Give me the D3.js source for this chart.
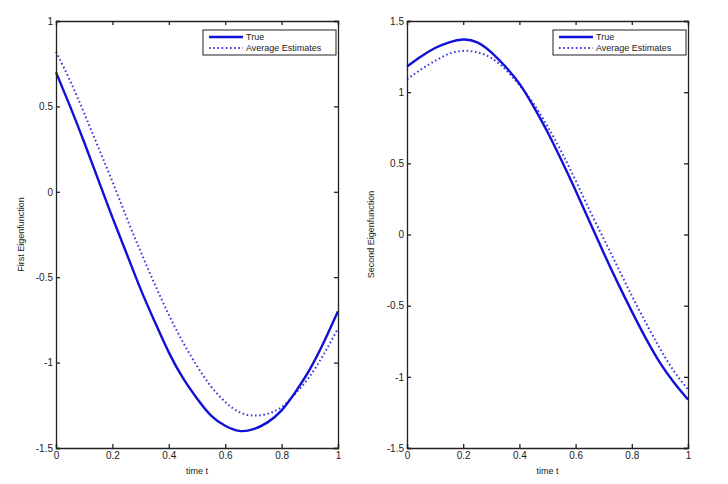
<!DOCTYPE html>
<html lang="en">
  <head>
    <meta charset="UTF-8" />
    <title>Eigenfunctions</title>
    <script src="https://cdn.jsdelivr.net/npm/d3@7"></script>
    <style>
      body { margin: 0; background: #fff; }
      text { font-family: "Liberation Sans", Arial, sans-serif; fill: #222; }
    </style>
  </head>
  <body>
    <script>
      // time grid (every 0.05)
      var times = [0, 0.05, 0.1, 0.15, 0.2, 0.25, 0.3, 0.35, 0.4, 0.45, 0.5,
                   0.55, 0.6, 0.65, 0.7, 0.75, 0.8, 0.85, 0.9, 0.95, 1];

      var firstTrue = [0.70, 0.50, 0.29, 0.07, -0.15, -0.36, -0.57, -0.76, -0.94, -1.09, -1.21,
                       -1.31, -1.37, -1.40, -1.39, -1.35, -1.28, -1.17, -1.04, -0.88, -0.70];
      var firstAvg = [0.82, 0.65, 0.46, 0.26, 0.06, -0.15, -0.35, -0.54, -0.72, -0.88, -1.02,
                      -1.14, -1.23, -1.29, -1.31, -1.30, -1.26, -1.18, -1.08, -0.95, -0.80];

      var secondTrue = [1.18, 1.25, 1.31, 1.35, 1.37, 1.35, 1.28, 1.18, 1.06, 0.90, 0.72,
                        0.52, 0.31, 0.09, -0.13, -0.34, -0.54, -0.73, -0.90, -1.04, -1.16];
      var secondAvg = [1.09, 1.16, 1.22, 1.27, 1.29, 1.28, 1.24, 1.16, 1.05, 0.92, 0.76,
                       0.58, 0.38, 0.17, -0.03, -0.23, -0.43, -0.62, -0.80, -0.96, -1.09];

      var xTicks = [0, 0.2, 0.4, 0.6, 0.8, 1];
      var xTickLabels = ["0", "0.2", "0.4", "0.6", "0.8", "1"];
      var yTicks1 = [-1.5, -1, -0.5, 0, 0.5, 1];
      var yTickLabels1 = ["-1.5", "-1", "-0.5", "0", "0.5", "1"];
      var yTicks2 = [-1.5, -1, -0.5, 0, 0.5, 1, 1.5];
      var yTickLabels2 = ["-1.5", "-1", "-0.5", "0", "0.5", "1", "1.5"];
      var legendLabels = ["True", "Average Estimates"];

      var svg = d3.select("body").append("svg")
        .attr("width", 728)
        .attr("height", 484);

      function drawPanel(opt) {
        var x = d3.scaleLinear().domain([0, 1]).range([opt.left, opt.right]);
        var y = d3.scaleLinear().domain(opt.yDomain).range([opt.bottom, opt.top]);
        var g = svg.append("g");

        var line = d3.line()
          .x(function (d) { return x(d[0]); })
          .y(function (d) { return y(d[1]); })
          .curve(d3.curveNatural);

        g.append("path")
          .datum(d3.zip(times, opt.avg))
          .attr("d", line)
          .attr("fill", "none")
          .attr("stroke", "#3a3ae0")
          .attr("stroke-width", 2)
          .attr("stroke-dasharray", "1.6,2.6");

        g.append("path")
          .datum(d3.zip(times, opt.trueVals))
          .attr("d", line)
          .attr("fill", "none")
          .attr("stroke", "#1010d8")
          .attr("stroke-width", 2.4);

        function fmt(ticks, labels) {
          return function (d) { return labels[ticks.indexOf(d)]; };
        }

        var bottomAx = g.append("g")
          .attr("transform", "translate(0," + opt.bottom + ")")
          .call(d3.axisBottom(x).tickValues(xTicks).tickSize(-4).tickPadding(4)
            .tickFormat(fmt(xTicks, xTickLabels)));
        var topAx = g.append("g")
          .attr("transform", "translate(0," + opt.top + ")")
          .call(d3.axisTop(x).tickValues(xTicks).tickSize(-4).tickFormat(""));
        var leftAx = g.append("g")
          .attr("transform", "translate(" + opt.left + ",0)")
          .call(d3.axisLeft(y).tickValues(opt.yTicks).tickSize(-4).tickPadding(3)
            .tickFormat(fmt(opt.yTicks, opt.yLabels)));
        var rightAx = g.append("g")
          .attr("transform", "translate(" + opt.right + ",0)")
          .call(d3.axisRight(y).tickValues(opt.yTicks).tickSize(-4).tickFormat(""));

        [bottomAx, topAx, leftAx, rightAx].forEach(function (a) {
          a.selectAll("path, line").attr("stroke", "#222").attr("stroke-width", 1.3);
          a.selectAll("text").attr("font-size", 10).attr("fill", "#222")
            .attr("font-family", "'Liberation Sans', Arial, sans-serif");
        });

        g.append("text")
          .attr("x", (opt.left + opt.right) / 2)
          .attr("y", opt.bottom + 26)
          .attr("text-anchor", "middle")
          .attr("font-size", 9)
          .text("time t");

        g.append("text")
          .attr("transform", "translate(" + opt.ylabelX + "," + (opt.top + opt.bottom) / 2 + ") rotate(-90)")
          .attr("text-anchor", "middle")
          .attr("font-size", 9)
          .text(opt.ylabel);

        // legend
        var lx = opt.right - 135, ly = opt.top + 9;
        var leg = g.append("g").attr("transform", "translate(" + lx + "," + ly + ")");
        leg.append("rect")
          .attr("width", 133).attr("height", 25)
          .attr("fill", "#fff").attr("stroke", "#222").attr("stroke-width", 1);
        leg.append("line")
          .attr("x1", 6).attr("x2", 40).attr("y1", 7).attr("y2", 7)
          .attr("stroke", "#1010d8").attr("stroke-width", 2.4);
        leg.append("line")
          .attr("x1", 6).attr("x2", 40).attr("y1", 18).attr("y2", 18)
          .attr("stroke", "#3a3ae0").attr("stroke-width", 2)
          .attr("stroke-dasharray", "1.6,2.6");
        leg.selectAll("text.lbl").data(legendLabels).enter()
          .append("text")
          .attr("class", "lbl")
          .attr("x", 43)
          .attr("y", function (d, i) { return 10 + i * 11; })
          .attr("font-size", 9)
          .text(function (d) { return d; });
      }

      drawPanel({
        left: 56, right: 338, top: 21, bottom: 448,
        yDomain: [-1.5, 1], yTicks: yTicks1, yLabels: yTickLabels1,
        trueVals: firstTrue, avg: firstAvg,
        ylabel: "First Eigenfunction", ylabelX: 24
      });

      drawPanel({
        left: 407, right: 688, top: 21, bottom: 448,
        yDomain: [-1.5, 1.5], yTicks: yTicks2, yLabels: yTickLabels2,
        trueVals: secondTrue, avg: secondAvg,
        ylabel: "Second Eigenfunction", ylabelX: 374
      });
    </script>
  </body>
</html>
